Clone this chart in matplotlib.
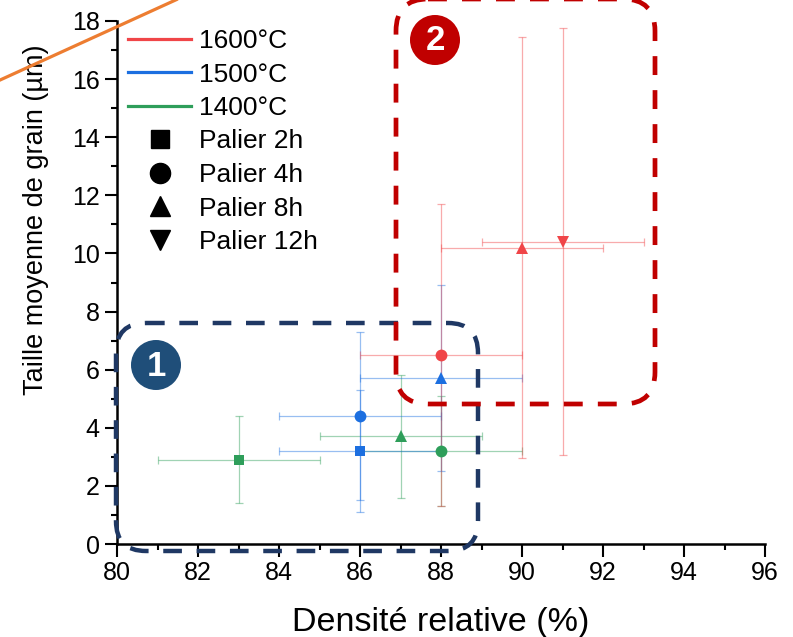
import matplotlib
matplotlib.use("Agg")
import matplotlib.pyplot as plt
from matplotlib.lines import Line2D
from matplotlib.patches import FancyBboxPatch, Circle
from matplotlib.transforms import Affine2D
from matplotlib.ticker import MultipleLocator

# ---- data -------------------------------------------------------------
temperatures = ["1600°C", "1500°C", "1400°C"]
durations = ["Palier 2h", "Palier 4h", "Palier 8h", "Palier 12h"]
duration_markers = ["s", "o", "^", "v"]

# 1400 °C : 2h, 4h, 8h
x_1400 = [83, 88, 87]
y_1400 = [2.9, 3.2, 3.7]
xerr_1400 = [2, 2, 2]
yerr_1400 = [1.5, 1.9, 2.1]
mk_1400 = ["s", "o", "^"]

# 1500 °C : 2h, 4h, 8h
x_1500 = [86, 86, 88]
y_1500 = [3.2, 4.4, 5.7]
xerr_1500 = [2, 2, 2]
yerr_1500 = [2.1, 2.9, 3.2]
mk_1500 = ["s", "o", "^"]

# 1600 °C : 4h, 8h, 12h
x_1600 = [88, 90, 91]
y_1600 = [6.5, 10.2, 10.4]
xerr_1600 = [2, 2, 2]
yerr_1600 = [5.2, 7.25, 7.35]
mk_1600 = ["o", "^", "v"]

x_ticks = [80, 82, 84, 86, 88, 90, 92, 94, 96]
y_ticks = [0, 2, 4, 6, 8, 10, 12, 14, 16, 18]

colors = {"1600°C": "#F04548", "1500°C": "#1C6FE0", "1400°C": "#2E9E5A"}

# ---- figure -----------------------------------------------------------
plt.rcParams["font.family"] = ["Liberation Sans", "DejaVu Sans"]
W, H, DPI = 793, 637, 100
fig = plt.figure(figsize=(W / DPI, H / DPI), dpi=DPI)
ax = fig.add_axes([117 / W, 1 - 544 / H, 648 / W, 523 / H])

series = [
    ("1400°C", x_1400, y_1400, xerr_1400, yerr_1400, mk_1400),
    ("1500°C", x_1500, y_1500, xerr_1500, yerr_1500, mk_1500),
    ("1600°C", x_1600, y_1600, xerr_1600, yerr_1600, mk_1600),
]
for name, xs, ys, xe, ye, mks in series:
    c = colors[name]
    for x, y, dx, dy, m in zip(xs, ys, xe, ye, mks):
        ax.errorbar(x, y, xerr=dx, yerr=dy, fmt="none", ecolor=c,
                    elinewidth=0.9, capsize=3, capthick=0.9, alpha=0.45,
                    zorder=2)
        ms = 7.5 if m == "s" else 8.5
        ax.plot(x, y, marker=m, color=c, markersize=ms, linestyle="none",
                markeredgewidth=0, zorder=3)

ax.set_xlim(80, 96)
ax.set_ylim(0, 18)
ax.set_xticks(x_ticks)
ax.set_yticks(y_ticks)
ax.xaxis.set_minor_locator(MultipleLocator(1))
ax.yaxis.set_minor_locator(MultipleLocator(1))
for s in ("top", "right"):
    ax.spines[s].set_visible(False)
for s in ("left", "bottom"):
    ax.spines[s].set_linewidth(1.8)
ax.tick_params(which="major", direction="out", length=9, width=1.5,
               labelsize=18, pad=3.5, color="black")
ax.tick_params(which="minor", direction="out", length=4, width=1.5)

ax.set_xlabel("Densité relative (%)", fontsize=24.5)
ax.set_ylabel("Taille moyenne de grain (µm)", fontsize=19.5)
ax.xaxis.set_label_coords(0.5, -0.12)
ax.yaxis.set_label_coords(-0.105, 0.62)

# legend: temperatures as lines, durations as black markers
handles = [Line2D([], [], color=colors[t], lw=2.3) for t in temperatures]
handles += [Line2D([], [], color="black", marker=m, linestyle="none",
                   markersize=(13 if m == "s" else 14.5))
            for m in duration_markers]
labels = temperatures + durations

# pixel coordinates (origin top-left) for overlay annotations
px = Affine2D().scale(1 / DPI, -1 / DPI).translate(0, H / DPI) + fig.dpi_scale_trans

leg = fig.legend(handles, labels, loc="upper left",
                 bbox_to_anchor=(128, 29), bbox_transform=px,
                 frameon=False, fontsize=19, handlelength=2.4,
                 handletextpad=0.3, labelspacing=0.36, borderpad=0,
                 borderaxespad=0)

# orange guide line in the upper-left corner
fig.add_artist(Line2D([-10, 180], [84.6, -2], color="#ED7D31", lw=2.3,
                      transform=px, solid_capstyle="butt"))

# dashed rounded frames around the two groups
blue_box = FancyBboxPatch((116, 323), 362, 228,
                          boxstyle="round,pad=0,rounding_size=30",
                          fill=False, edgecolor="#1F3864", lw=3.2,
                          linestyle=(0, (4.2, 3.3)), transform=px, zorder=10)
red_box = FancyBboxPatch((396, -1), 259, 405,
                         boxstyle="round,pad=0,rounding_size=32",
                         fill=False, edgecolor="#C00000", lw=3.4,
                         linestyle=(0, (4.0, 3.2)), transform=px, zorder=10)
fig.add_artist(blue_box)
fig.add_artist(red_box)

# numbered badges
for (cx, cy), txt, col in [((156, 365), "1", "#1F4E79"),
                           ((435, 40), "2", "#C00000")]:
    fig.add_artist(Circle((cx, cy), 25, transform=px, facecolor=col,
                          edgecolor="none", zorder=11))
    fig.text(cx, cy + 1, txt, transform=px, color="white", fontsize=25,
             fontweight="bold", ha="center", va="center", zorder=12)

fig.savefig("out.png", dpi=DPI)
